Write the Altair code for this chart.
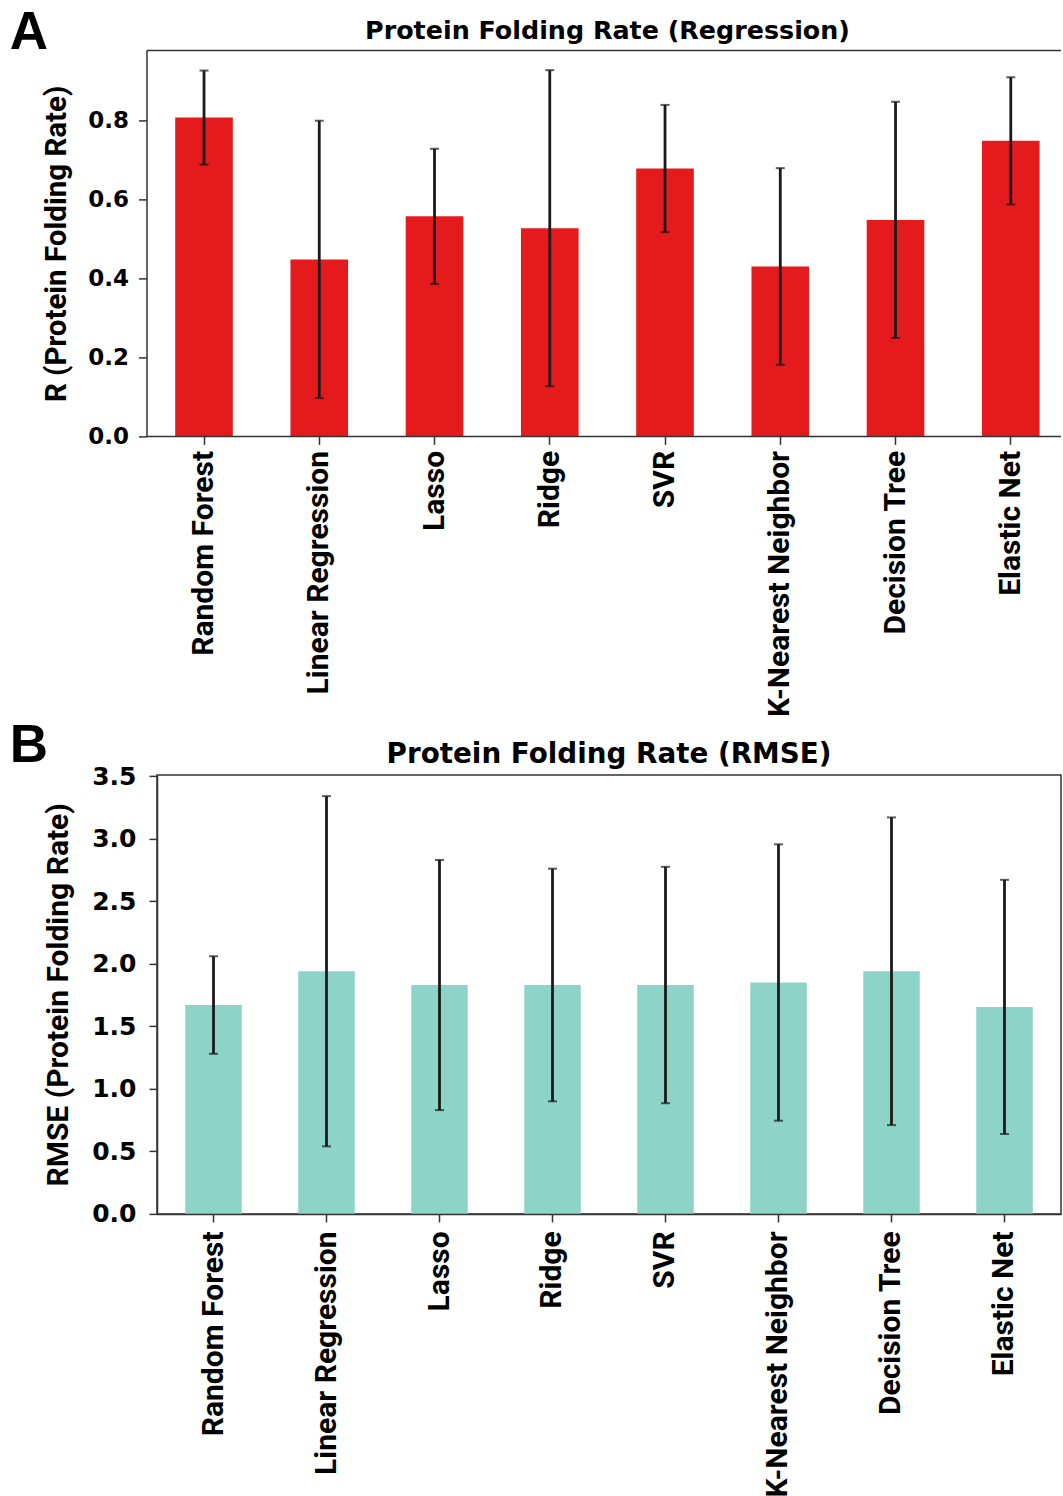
import altair as alt
import pandas as pd

models = ["Random Forest", "Linear Regression", "Lasso", "Ridge", "SVR",
          "K-Nearest Neighbor", "Decision Tree", "Elastic Net"]

# Panel A: correlation R per model (mean and error-bar half width)
r_mean = [0.807, 0.448, 0.557, 0.527, 0.678, 0.430, 0.548, 0.748]
r_err = [0.119, 0.351, 0.171, 0.400, 0.161, 0.249, 0.299, 0.161]
r_ticks = [0.0, 0.2, 0.4, 0.6, 0.8]

# Panel B: RMSE per model (mean and error-bar half width)
rmse_mean = [1.67, 1.94, 1.83, 1.83, 1.83, 1.85, 1.94, 1.655]
rmse_err = [0.39, 1.40, 1.00, 0.93, 0.945, 1.105, 1.23, 1.016]
rmse_ticks = [0.0, 0.5, 1.0, 1.5, 2.0, 2.5, 3.0, 3.5]

FRAME = "#333333"
ERR = "#1a1a1a"


def panel(mean, err, color, ymax, ticks, ytitle, title, width, height,
          frame_x0, frame_x1, band_range, pad_outer, open_right,
          letter, letter_x, letter_y, title_y, title_size, tick_size,
          ytitle_size, label_pad, title_pad, xlabel_pad):
    df = pd.DataFrame({
        "model": models,
        "value": mean,
        "lo": [m - e for m, e in zip(mean, err)],
        "hi": [m + e for m, e in zip(mean, err)],
    })
    xscale = alt.Scale(paddingInner=0.5, paddingOuter=pad_outer,
                       range=band_range)
    xaxis = alt.Axis(labelAngle=-90, labelFont="Roboto",
                     labelFontWeight="bold", labelFontSize=30,
                     labelColor="black", labelPadding=xlabel_pad,
                     labelLimit=0,
                     tickSize=8, tickWidth=1.5, tickColor=FRAME,
                     domain=not open_right, domainColor=FRAME,
                     domainWidth=1.5, zindex=1)
    yscale = alt.Scale(domain=[0, ymax], nice=False, zero=True)
    yaxis = alt.Axis(values=ticks, format=".1f", grid=False,
                     offset=-frame_x0,
                     labelFont="DejaVu Sans", labelFontWeight="bold",
                     labelFontSize=tick_size, labelColor="black",
                     labelPadding=label_pad,
                     tickSize=8, tickWidth=1.5, tickColor=FRAME,
                     domainColor=FRAME, domainWidth=1.5, zindex=1,
                     titleFont="Roboto", titleFontWeight="bold",
                     titleFontSize=ytitle_size, titleColor="black",
                     titlePadding=title_pad)

    def xenc(**kw):
        return alt.X("model:N", sort=models, title=None, scale=xscale, **kw)

    base = alt.Chart(df)
    bars = base.mark_bar(color=color).encode(
        x=xenc(axis=xaxis),
        y=alt.Y("value:Q", scale=yscale, axis=yaxis, title=ytitle))
    whiskers = base.mark_rule(color=ERR, strokeWidth=2.8).encode(
        x=xenc(), y=alt.Y("lo:Q", scale=yscale, title=ytitle),
        y2=alt.Y2("hi:Q", title=ytitle))
    cap_hi = base.mark_tick(color=ERR, size=9, thickness=2).encode(
        x=xenc(), y=alt.Y("hi:Q", scale=yscale, title=ytitle))
    cap_lo = base.mark_tick(color=ERR, size=9, thickness=2).encode(
        x=xenc(), y=alt.Y("lo:Q", scale=yscale, title=ytitle))

    one = alt.Chart(pd.DataFrame({"letter": [letter], "title": [title]}))
    tag = one.mark_text(
        font="Liberation Sans", fontWeight="bold", fontSize=53,
        align="left", baseline="top", color="black").encode(
        x=alt.value(letter_x), y=alt.value(letter_y), text="letter:N")
    heading = one.mark_text(
        font="DejaVu Sans", fontWeight="bold", fontSize=title_size,
        align="center", baseline="alphabetic", color="black").encode(
        x=alt.value((frame_x0 + frame_x1) / 2), y=alt.value(title_y),
        text="title:N")

    layers = [bars, whiskers, cap_hi, cap_lo]
    props = dict(width=width, height=height)
    if open_right:
        # frame drawn as top and bottom lines only; the right edge runs
        # past the canvas
        top = one.mark_rule(color=FRAME, strokeWidth=1.5).encode(
            x=alt.value(frame_x0), x2=alt.value(width), y=alt.value(0))
        bottom = one.mark_rule(color=FRAME, strokeWidth=1.5).encode(
            x=alt.value(frame_x0), x2=alt.value(width), y=alt.value(height))
        layers += [top, bottom]
        props["view"] = alt.ViewBackground(stroke=None)
    layers += [tag, heading]
    return alt.layer(*layers).properties(**props)


# Panel A: bars spaced 115.25 px apart, frame starting 10.5 px left of
# panel B's frame and running past the right edge of the canvas
panel_a = panel(r_mean, r_err, "#e41a1c", 0.977, r_ticks,
                "R (Protein Folding Rate)",
                "Protein Folding Rate (Regression)",
                904, 386, -10.5, 911.5, [18.2, 882.6], 0, True,
                "A", -147.2, -42.9, -11,
                25.4, 23, 29.5, 10, 16, 6)

panel_b = panel(rmse_mean, rmse_err, "#8dd3c7", 3.51, rmse_ticks,
                "RMSE (Protein Folding Rate)",
                "Protein Folding Rate (RMSE)",
                904, 439, 0, 904, [0, 904], 0.25, False,
                "B", -147.2, -54.6, -11.7,
                27.8, 25, 30, 13, 18, 9)

chart = alt.vconcat(panel_a, panel_b, spacing=1.5).configure_view(
    stroke=FRAME, strokeWidth=1.5
).properties(
    padding={"left": 9, "top": 7.4, "right": 0, "bottom": 0},
    background="white",
)

chart.save("out.html", embed_options={"renderer": "svg", "actions": False})
